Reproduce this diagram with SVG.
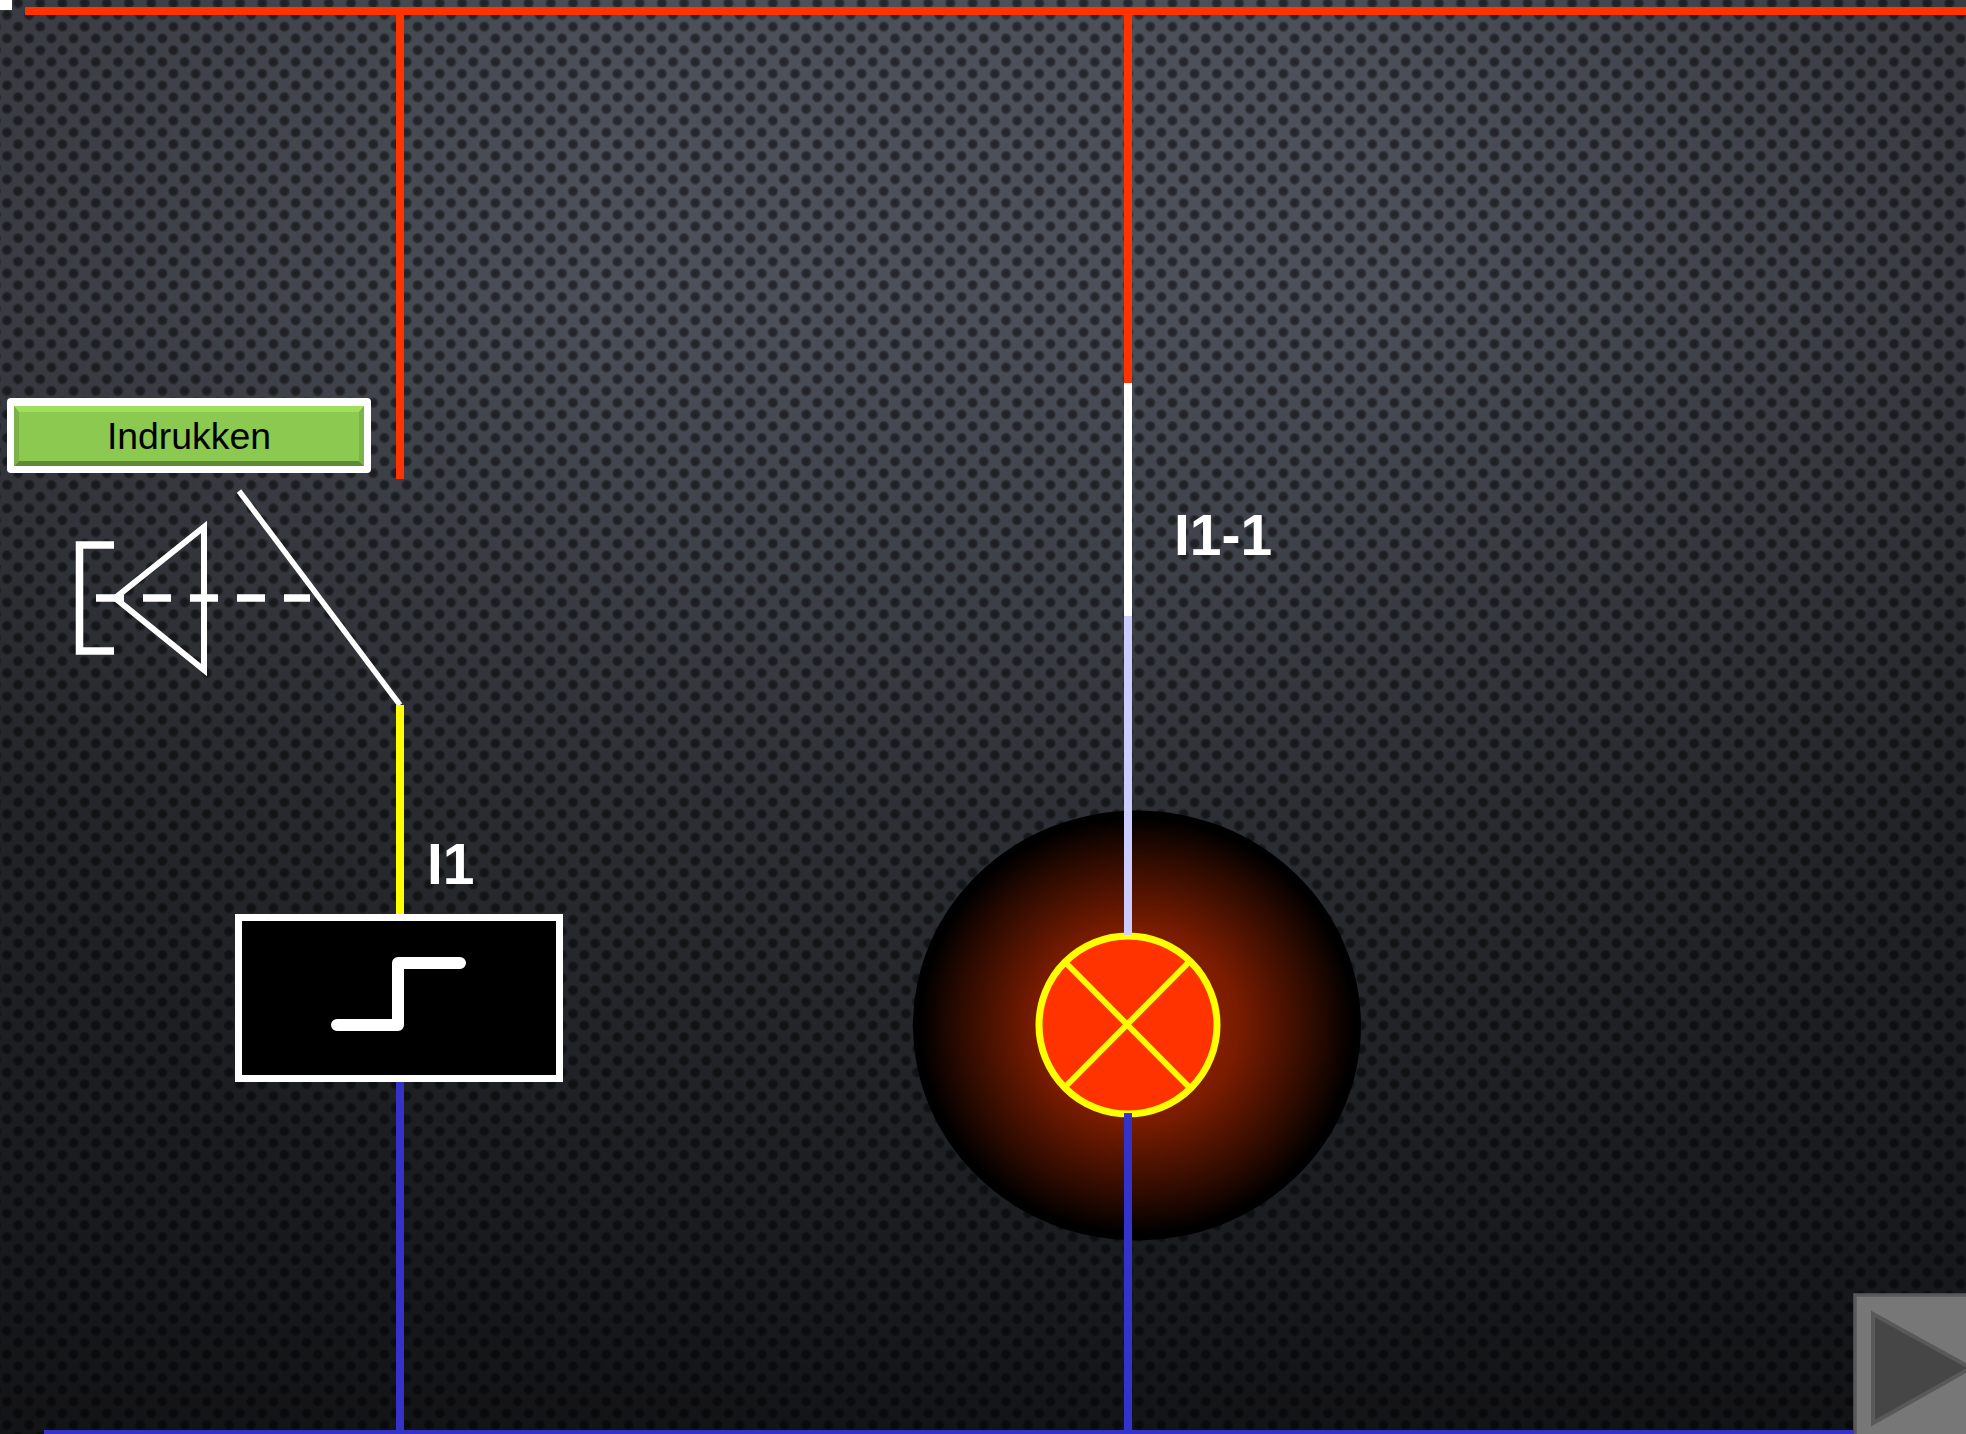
<svg xmlns="http://www.w3.org/2000/svg" width="1966" height="1434" viewBox="0 0 1966 1434">
<style>
.w{stroke-linecap:butt;fill:none;stroke-width:8}
.red{stroke:#ff3300}.blue{stroke:#3333cc}.yel{stroke:#ffff00}.wht{stroke:#fff}.lil{stroke:#ccccff}
.lbl{font-family:"Liberation Sans",Arial,sans-serif;font-weight:700;font-size:57px;fill:#fff}
.sym{fill:none;stroke:#fff;stroke-width:7.5}
</style>
<defs>
<linearGradient id="bg" gradientUnits="userSpaceOnUse" x1="0" y1="0" x2="0" y2="1434">
<stop offset="0" stop-color="#4c5059"/><stop offset=".21" stop-color="#4c5059"/><stop offset=".56" stop-color="#303339"/><stop offset=".84" stop-color="#23262a"/><stop offset="1" stop-color="#1b1c20"/>
</linearGradient>
<radialGradient id="vig" gradientUnits="userSpaceOnUse" cx="0" cy="0" r="1" gradientTransform="translate(983 250) scale(1100 1200)">
<stop offset=".35" stop-color="#000" stop-opacity="0"/><stop offset="1" stop-color="#000" stop-opacity=".3"/>
</radialGradient>
<radialGradient id="dot"><stop offset="0" stop-color="#000" stop-opacity=".55"/><stop offset=".6" stop-color="#000" stop-opacity=".48"/><stop offset="1" stop-color="#000" stop-opacity="0"/></radialGradient>
<pattern id="dots" patternUnits="userSpaceOnUse" width="22.2" height="23.5">
<circle cx="18" cy="3.2" r="6" fill="url(#dot)"/><circle cx="18" cy="26.7" r="6" fill="url(#dot)"/><circle cx="-4.2" cy="3.2" r="6" fill="url(#dot)"/>
<circle cx="7" cy="14.95" r="6" fill="url(#dot)"/>
</pattern>
<radialGradient id="glow"><stop offset="0" stop-color="#a32600"/><stop offset=".45" stop-color="#7a1c00"/><stop offset=".8" stop-color="#2a0a00"/><stop offset=".97" stop-color="#000"/><stop offset="1" stop-color="#000"/></radialGradient>
</defs>
<rect id="background" width="1966" height="1434" fill="url(#bg)"/>
<rect width="1966" height="1434" fill="url(#vig)"/>
<rect width="1966" height="1434" fill="url(#dots)"/>
<rect id="corner" x="0" y="0" width="12" height="10" fill="#fff"/>
<g id="button-indrukken">
<rect x="7" y="398" width="364" height="75" rx="4" fill="#fff"/>
<rect x="14" y="406" width="350" height="60" fill="#8bc951"/>
<polygon points="14,406 364,406 359,412 19,412" fill="#9fdf5c"/>
<polygon points="14,466 364,466 359,461 19,461" fill="#5f8a36"/>
<polygon points="14,406 19,412 19,461 14,466" fill="#7cb248"/>
<polygon points="364,406 359,412 359,461 364,466" fill="#7cb248"/>
<text x="189" y="449" text-anchor="middle" font-family="'Liberation Sans',Arial,sans-serif" font-size="37.4" fill="#000">Indrukken</text>
</g>
<g id="push-switch">
<path d="M239 491L400 705" fill="none" stroke="#fff" stroke-width="5.5"/>
<path class="sym" d="M114 545H79.5V651H114"/>
<polygon class="sym" style="stroke-width:6" points="115,598 204,527 204,670"/>
<path d="M96 598H310" fill="none" stroke="#fff" stroke-width="7.5" stroke-dasharray="28 19"/>
</g>
<g id="relay-i1">
<rect x="238.5" y="917.5" width="321" height="161" fill="#000" stroke="#fff" stroke-width="7"/>
<path d="M337 1025H398V963H460" fill="none" stroke="#fff" stroke-width="12" stroke-linecap="round" stroke-linejoin="round"/>
<text class="lbl" x="427" y="884">I1</text>
</g>
<g id="lamp">
<ellipse cx="1137" cy="1025.5" rx="224" ry="215" fill="url(#glow)"/>
<circle cx="1128" cy="1025" r="89" fill="#ff3300" stroke="#ffff00" stroke-width="7"/>
<path d="M1065 962L1190 1088M1189 962L1065 1087" fill="none" stroke="#ffff00" stroke-width="6"/>
<text class="lbl" x="1174" y="555">I1-1</text>
</g>
<g id="connectors">
<path class="w red" d="M25 11H1966"/>
<path class="w red" d="M400 15V479"/>
<path class="w red" d="M1128 15V383"/>
<path class="w wht" d="M1128 383V616"/>
<path class="w lil" d="M1128 616V935"/>
<path class="w yel" d="M400 705V914"/>
<path class="w blue" d="M400 1082V1430"/>
<path class="w blue" d="M1128 1113V1430"/>
<path class="blue" fill="none" stroke-width="4" d="M44 1432H1853"/>
</g>
<g id="next-button">
<rect x="1855" y="1295" width="120" height="150" fill="#777" stroke="#595959" stroke-width="3.5"/>
<polygon points="1873,1314 1971,1368 1873,1423" fill="#464646" stroke="#595959" stroke-width="4"/>
</g>
</svg>
